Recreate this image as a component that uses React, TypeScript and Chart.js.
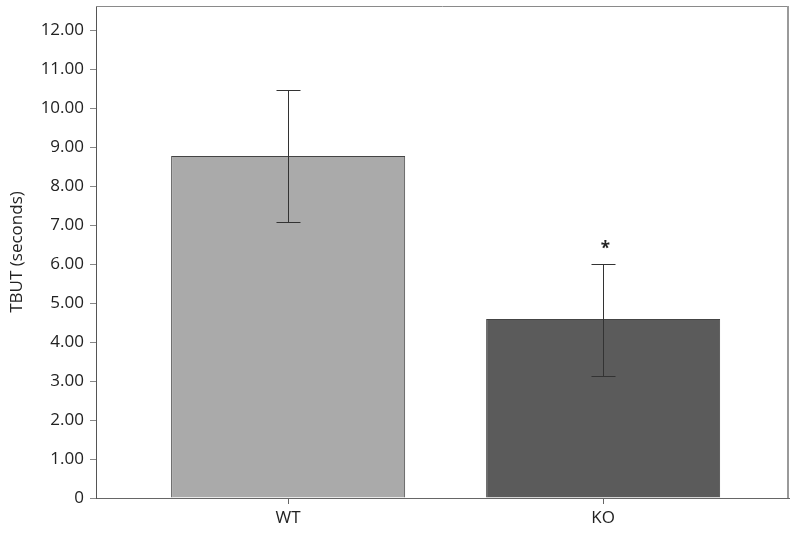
import React, { useEffect, useRef } from "react";
import { Chart, registerables } from "chart.js";

Chart.register(...registerables);

const categories = ["WT", "KO"];
const means = [8.77, 4.59];
const errHigh = [10.46, 6.0];
const errLow = [7.08, 3.13];
const marks = ["", "*"];
const barColors = ["#aaaaaa", "#5b5b5b"];
const yTicks = [0, 1, 2, 3, 4, 5, 6, 7, 8, 9, 10, 11, 12];

const FONT = "'Open Sans', 'DejaVu Sans', sans-serif";

const errorBarPlugin = {
  id: "errorBars",
  afterDatasetsDraw(chart: any) {
    const { ctx, scales } = chart;
    const x = scales.x;
    const y = scales.y;
    ctx.save();
    ctx.strokeStyle = "#333333";
    ctx.lineWidth = 1;
    categories.forEach((_, i) => {
      const px = Math.round(x.getPixelForValue(i)) + 0.5;
      const yh = Math.round(y.getPixelForValue(errHigh[i])) + 0.5;
      const yl = Math.round(y.getPixelForValue(errLow[i])) + 0.5;
      const cap = 12;
      ctx.beginPath();
      ctx.moveTo(px, yh);
      ctx.lineTo(px, yl);
      ctx.moveTo(px - cap, yh);
      ctx.lineTo(px + cap, yh);
      ctx.moveTo(px - cap, yl);
      ctx.lineTo(px + cap, yl);
      ctx.stroke();
      if (marks[i]) {
        ctx.fillStyle = "#222222";
        ctx.font = `bold 17px ${FONT}`;
        ctx.textAlign = "center";
        ctx.textBaseline = "alphabetic";
        ctx.fillText(marks[i], px + 2, yh - 11);
      }
    });
    const a = chart.chartArea;
    ctx.strokeStyle = "#8a8a8a";
    ctx.lineWidth = 1;
    ctx.beginPath();
    ctx.moveTo(a.left, a.top + 0.5);
    ctx.lineTo(a.right, a.top + 0.5);
    ctx.stroke();
    ctx.strokeStyle = "#9a9a9a";
    ctx.lineWidth = 2;
    ctx.beginPath();
    ctx.moveTo(a.right - 1, a.top);
    ctx.lineTo(a.right - 1, a.bottom);
    ctx.stroke();
    ctx.restore();
  },
};

export default function App() {
  const ref = useRef<HTMLCanvasElement | null>(null);
  useEffect(() => {
    document.body.style.margin = "0";
    const chart = new Chart(ref.current as HTMLCanvasElement, {
      type: "bar",
      data: {
        datasets: [
          {
            data: categories.map((_, i) => ({ x: i, y: means[i] })),
            backgroundColor: barColors,
            borderColor: "#444444",
            borderWidth: 1,
            barPercentage: 0.743,
            categoryPercentage: 1,
          },
        ],
      },
      options: {
        animation: false,
        responsive: false,
        layout: { padding: { top: 6, right: 6, left: 0, bottom: 0 } },
        plugins: { legend: { display: false }, tooltip: { enabled: false } },
        scales: {
          x: {
            type: "linear",
            offset: false,
            min: -0.61,
            max: 1.59,
            afterBuildTicks: (s: any) => {
              s.ticks = categories.map((_, i) => ({ value: i }));
            },
            afterFit: (s: any) => {
              s.height = 36;
              s.paddingLeft = 0;
              s.paddingRight = 0;
            },
            ticks: {
              callback: (v: any) => categories[v as number] ?? "",
              color: "#222222",
              font: { family: FONT, size: 17 },
              padding: 4,
            },
            grid: { offset: false, drawOnChartArea: false, tickLength: 6, color: "#666666" },
            border: { color: "#666666", width: 1 },
          },
          y: {
            min: 0,
            max: 12.62,
            afterBuildTicks: (s: any) => {
              s.ticks = yTicks.map((v) => ({ value: v }));
            },
            afterFit: (s: any) => {
              s.width = 96;
              s.paddingTop = 0;
              s.paddingBottom = 0;
            },
            ticks: {
              callback: (v: any) => (v === 0 ? "0" : Number(v).toFixed(2)),
              color: "#222222",
              font: { family: FONT, size: 17 },
              padding: 6,
            },
            grid: { drawOnChartArea: false, tickLength: 6, color: "#888888" },
            border: { color: "#555555", width: 1 },
            title: {
              display: true,
              text: "TBUT (seconds)",
              color: "#222222",
              font: { family: FONT, size: 17 },
              padding: { top: 7, bottom: 4 },
            },
          },
        },
      },
      plugins: [errorBarPlugin],
    } as any);
    return () => chart.destroy();
  }, []);
  return (
    <div style={{ width: 795, height: 534 }}>
      <canvas ref={ref} width={795} height={534} style={{ display: "block" }} />
    </div>
  );
}
